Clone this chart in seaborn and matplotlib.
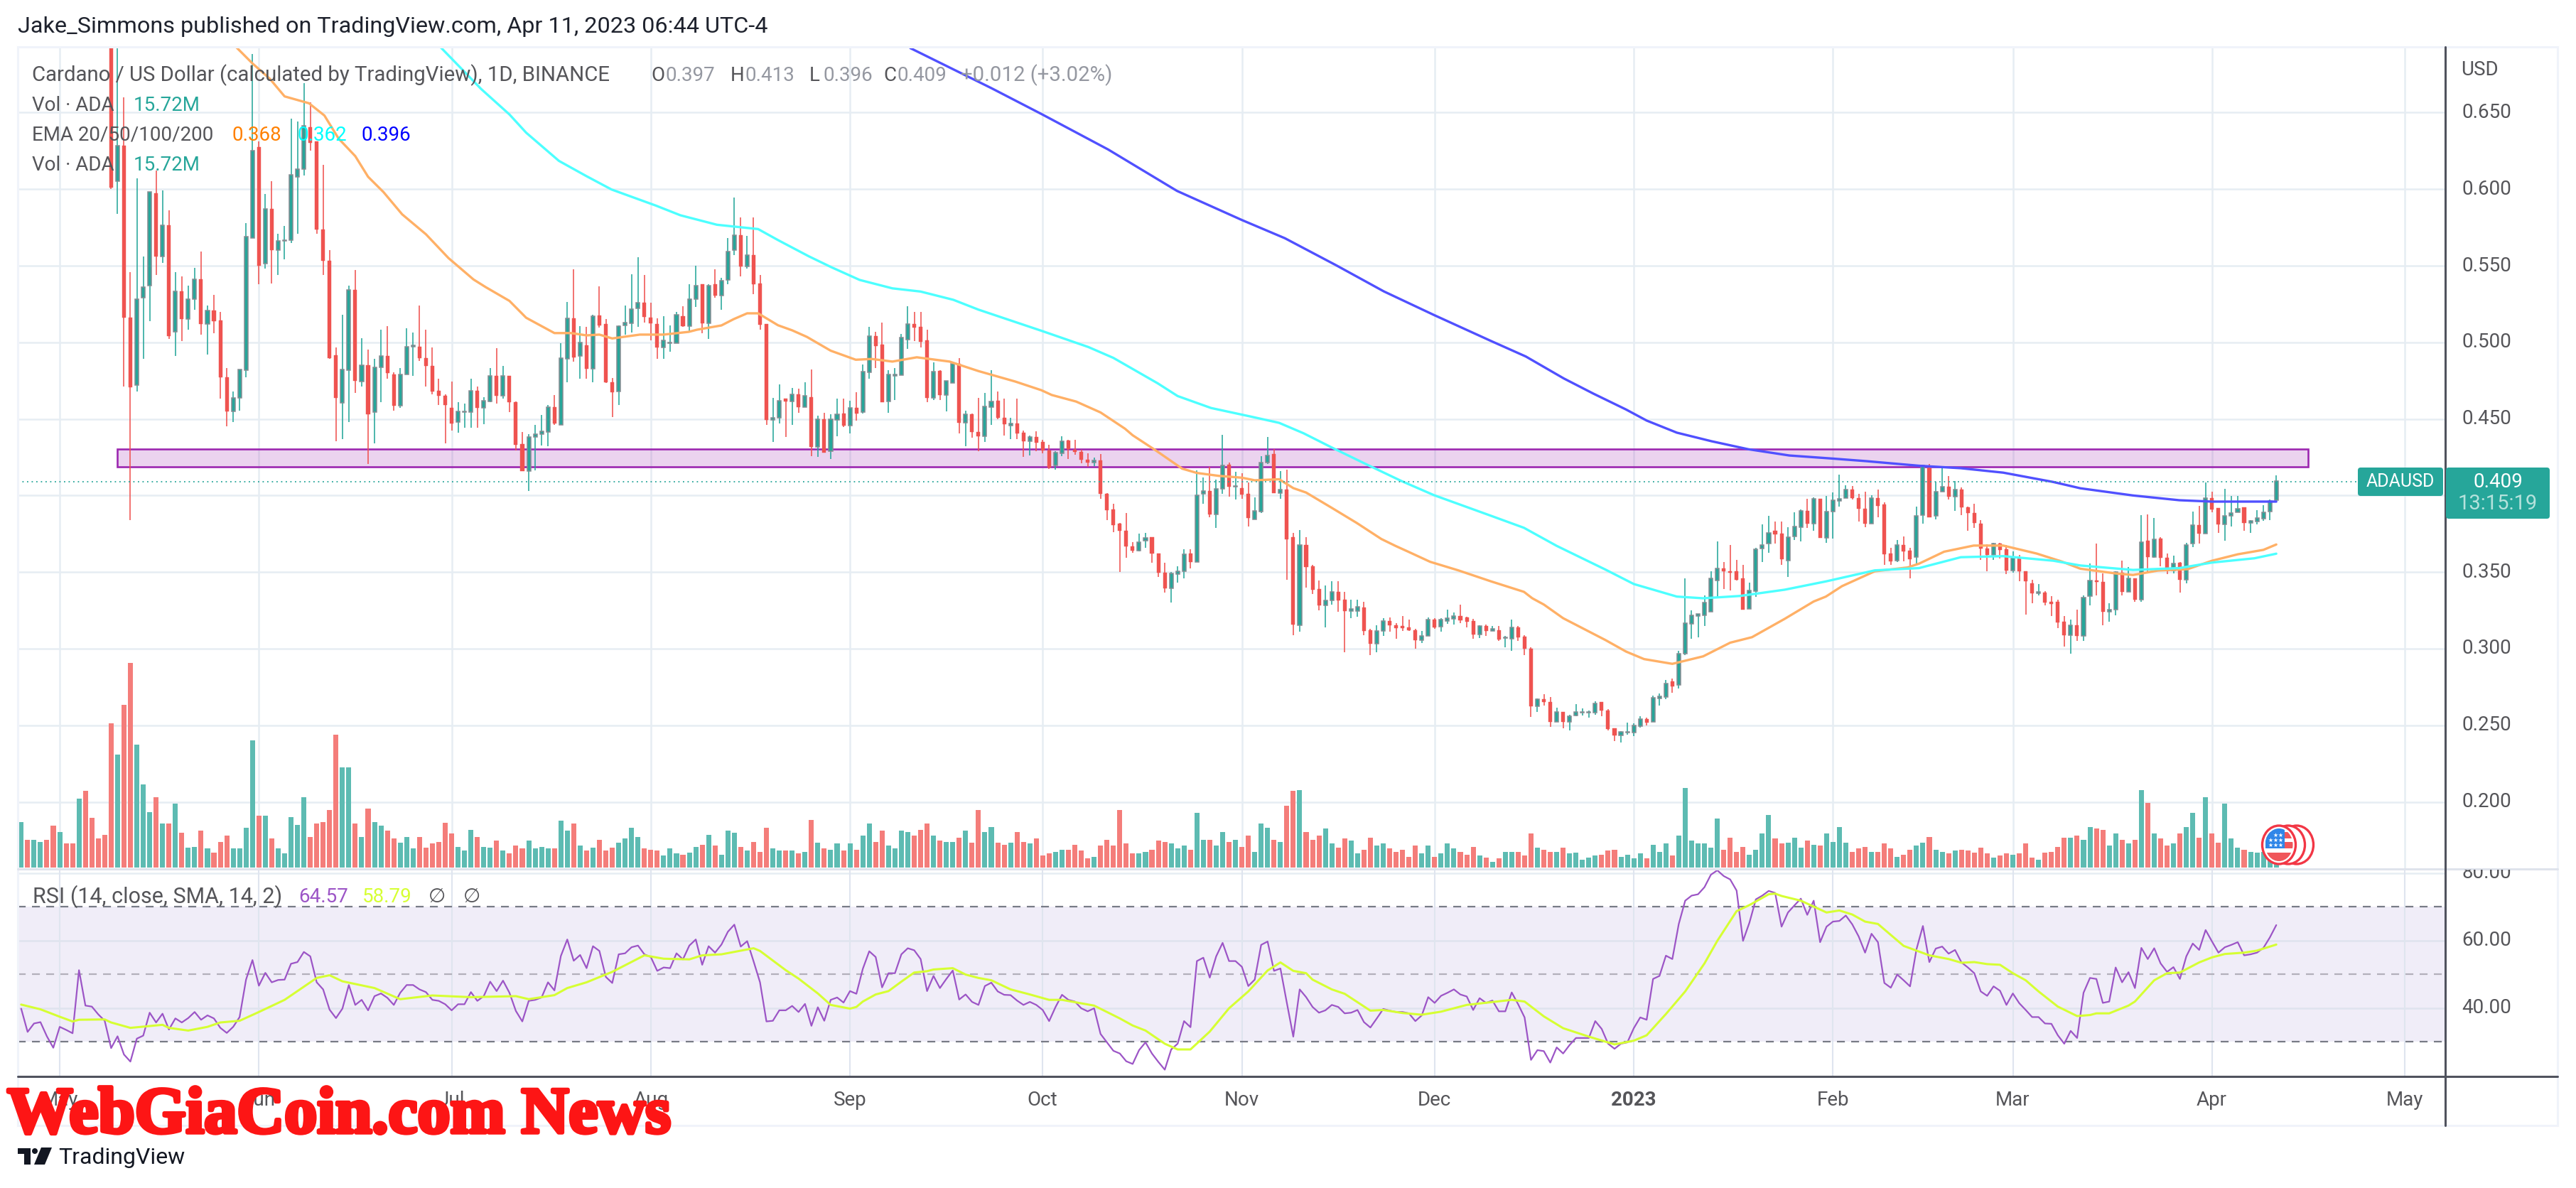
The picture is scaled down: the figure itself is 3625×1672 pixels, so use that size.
import matplotlib
matplotlib.use("Agg")
import matplotlib.pyplot as plt
import pandas as pd
import seaborn as sns
from matplotlib.patches import Rectangle, Ellipse, Circle, Polygon, FancyBboxPatch
from matplotlib.transforms import Bbox, TransformedBbox
import matplotlib.patheffects as pe

W, H = 3625, 1672

# candles, one a day from May 9 2022 (bar index 14) to Apr 11 2023
opens = [
 .76,.605,.628,.516,.472,.529,.537,.597,.556,.576,.507,.533,.515,.528,.541,.512,.5205,.514,.477,.455,
 .4635,.482,.568,.627,.5515,.587,.560,.566,.5665,.608,.613,.640,.631,.5735,.553,.4915,.4605,.482,.534,.4745,
 .485,.4545,.4835,.491,.479,.4585,.479,.497,.497,.4895,.4845,.468,.465,.457,.448,.4545,.4545,.468,.457,.4615,
 .478,.465,.478,.4605,.4335,.416,.438,.44,.4415,.4575,.446,.489,.5155,.491,.498,.4825,.5175,.5115,.4735,.468,
 .511,.5125,.522,.5258,.516,.5118,.4966,.4995,.4992,.517,.5104,.5281,.5376,.5123,.5376,.5307,.5407,.5601,.5696,.5497,
 .5566,.5383,.5116,.4495,.4507,.4628,.4616,.4656,.4578,.464,.4317,.4495,.4287,.4495,.4535,.4455,.4568,.4542,.4805,.504,
 .4985,.4616,.478,.4786,.5018,.5116,.5099,.5009,.4635,.481,.4656,.4732,.4857,.4476,.4526,.4414,.4388,.4578,.4616,.4507,
 .4457,.4467,.4407,.4353,.4381,.4348,.4294,.4194,.4277,.4355,.4298,.4284,.4232,.4216,.4225,.4009,.3905,.3813,.3768,.3666,
 .3638,.3704,.3725,.3619,.3495,.3394,.3488,.3505,.3619,.3567,.4009,.4026,.3874,.4045,.4199,.4058,.4045,.4009,.3844,.3896,
 .4213,.427,.4017,.4037,.3727,.3153,.3677,.3536,.3385,.3282,.3315,.3369,.3317,.3246,.3246,.3267,.3118,.3033,.3116,.3178,
 .3153,.3145,.3137,.3118,.3056,.3081,.319,.3145,.3182,.3195,.3213,.3201,.3178,.3091,.3147,.3116,.3118,.3068,.3066,.3139,
 .3077,.2998,.2625,.2667,.2652,.2522,.2584,.2522,.2563,.2583,.2583,.2584,.2652,.2594,.2476,.2435,.2454,.2453,.2495,.2538,
 .2522,.2673,.2683,.2785,.2764,.2967,.3164,.3211,.3219,.324,.3445,.3524,.3505,.3505,.3458,.3261,.3375,.3654,.3685,.3768,
 .3749,.3576,.3733,.3795,.3899,.3816,.3977,.3723,.3894,.3965,.3981,.4037,.3983,.3913,.3816,.3981,.394,.3617,.3573,.3677,
 .3636,.3596,.387,.4178,.3865,.4024,.4054,.3993,.4036,.3922,.3884,.3815,.3652,.3614,.3685,.3645,.351,.3592,.3503,.3424,
 .3363,.3363,.3306,.3306,.3176,.3088,.3152,.3083,.3342,.3443,.3436,.3242,.3254,.3495,.3372,.3455,.332,.3704,.3597,.3716,
 .3592,.351,.3557,.3448,.3685,.3806,.3751,.3981,.3917,.3811,.3865,.3889,.3922,.3822,.3832,.3848,.3893,.397]
highs = [
 .78,.72,.660,.546,.607,.556,.598,.612,.599,.586,.546,.543,.537,.5485,.559,.524,.531,.520,.483,.468,
 .482,.578,.688,.631,.597,.605,.571,.576,.646,.644,.669,.6565,.631,.616,.56,.4965,.518,.537,.547,.5025,
 .495,.489,.508,.5105,.4805,.483,.509,.5065,.524,.508,.4965,.476,.466,.4745,.461,.46,.476,.471,.464,.483,
 .496,.4845,.478,.4615,.4415,.440,.446,.4525,.459,.4655,.4995,.5265,.5475,.5105,.51,.518,.5365,.515,.4765,.511,
 .524,.5445,.5555,.5438,.5258,.5156,.517,.5108,.5198,.5236,.5378,.55,.5376,.5378,.5478,.5419,.5679,.5947,.5817,.5696,
 .5817,.5438,.5116,.4637,.4727,.4628,.4701,.4696,.4739,.4822,.4519,.4538,.4531,.463,.463,.4618,.4673,.4857,.5099,.5068,
 .5127,.482,.4831,.5052,.5236,.5198,.5198,.5082,.4867,.482,.4744,.4874,.4898,.4554,.4535,.4637,.4668,.482,.4677,.463,
 .4507,.463,.4424,.4393,.4417,.4365,.4329,.4289,.4388,.4365,.4365,.4298,.4275,.4246,.427,.4014,.3946,.382,.3886,.3694,
 .3749,.3756,.373,.3619,.3559,.35,.3536,.3649,.3649,.4163,.4116,.4187,.4104,.4398,.4216,.4156,.4147,.4085,.3986,.4258,
 .4381,.4303,.4157,.4168,.3758,.3774,.3727,.3547,.3447,.3412,.3439,.3439,.3371,.3319,.3319,.3308,.3128,.3153,.3199,.3205,
 .3168,.3215,.3188,.3128,.3116,.3205,.3199,.3199,.3257,.3236,.3286,.3207,.3195,.3153,.3157,.3147,.3147,.3081,.3188,.3147,
 .3087,.3008,.2677,.2704,.2685,.2615,.2584,.2567,.2636,.2609,.2594,.2656,.2652,.2605,.2479,.246,.2516,.2511,.2559,.2549,
 .2694,.2708,.2797,.2807,.2988,.3458,.3251,.3224,.3346,.3505,.3698,.3567,.3677,.3578,.3547,.3429,.366,.381,.3867,.3828,
 .3828,.3795,.3888,.3909,.3977,.3986,.3977,.3998,.4019,.4137,.4068,.406,.4012,.4023,.4002,.4037,.3957,.3656,.3708,.3733,
 .366,.3925,.4201,.4206,.409,.4189,.4126,.4095,.4054,.3927,.3946,.3841,.368,.3692,.3692,.3675,.3633,.3614,.3507,.3448,
 .3424,.3377,.3344,.332,.3214,.3188,.3254,.3349,.3555,.3687,.3491,.3297,.3503,.3574,.3533,.3455,.387,.3877,.3853,.3728,
 .3621,.3609,.3567,.3692,.3893,.3934,.4085,.4024,.3917,.4043,.3995,.3995,.3922,.3841,.3905,.3936,.3976,.413]
lows = [
 .600,.584,.471,.384,.468,.489,.514,.544,.552,.502,.491,.501,.508,.521,.505,.492,.506,.463,.445,.448,
 .4555,.477,.568,.538,.548,.5385,.544,.554,.565,.571,.609,.625,.571,.544,.489,.4355,.437,.448,.467,.471,
 .4205,.434,.461,.476,.4555,.457,.479,.478,.488,.471,.466,.459,.434,.4425,.441,.444,.444,.444,.4465,.461,
 .46,.463,.4545,.4295,.416,.403,.4165,.4325,.432,.446,.446,.474,.4875,.476,.476,.474,.5095,.4735,.451,.459,
 .505,.5065,.51,.513,.5014,.4893,.4893,.4938,.4992,.51,.5068,.523,.5059,.5021,.5293,.521,.5378,.5568,.5431,.5483,
 .5312,.5082,.4459,.4348,.4471,.4381,.4459,.4538,.4578,.4258,.4253,.4282,.4239,.4388,.4448,.4407,.4488,.4535,.4763,.4834,
 .4611,.454,.4621,.4786,.4955,.5009,.4964,.4611,.4621,.4621,.455,.4732,.4407,.4322,.4377,.4289,.4351,.4459,.45,.4393,
 .4369,.4369,.4253,.4263,.4289,.4277,.4175,.4168,.4256,.4239,.4265,.4211,.4187,.4192,.3979,.3839,.3761,.35,.3595,.3626,
 .3637,.3659,.3559,.3467,.3368,.3299,.3429,.3458,.3524,.3566,.3946,.3856,.3789,.4009,.3991,.3974,.3979,.3796,.3842,.3884,
 .4204,.4017,.398,.3449,.3087,.3112,.3398,.3356,.3251,.3139,.3288,.324,.2977,.3199,.3209,.3087,.2957,.2977,.3085,.3112,
 .3066,.3116,.3116,.2998,.3035,.3081,.3128,.3112,.3164,.3159,.3166,.3139,.3066,.307,.3085,.3116,.305,.3008,.2988,.305,
 .2957,.2553,.2588,.2629,.2491,.2522,.248,.2466,.2557,.2563,.2549,.2569,.2559,.2466,.2397,.2387,.2439,.2429,.2487,.2499,
 .2522,.2629,.2671,.2714,.2739,.2957,.3066,.3075,.3147,.324,.3329,.3387,.3381,.3445,.3253,.3258,.334,.3567,.3625,.3687,
 .3547,.3468,.3708,.3698,.3789,.3768,.3723,.3692,.3718,.3925,.3981,.3975,.383,.3795,.3816,.3857,.3547,.3547,.3567,.3571,
 .3458,.3547,.3818,.3858,.3846,.4024,.3976,.3898,.387,.3768,.3787,.3578,.3505,.3578,.359,.3486,.3495,.3439,.3223,.3297,
 .3349,.3282,.3214,.3135,.3012,.2965,.3053,.3053,.3282,.3349,.3154,.3176,.3216,.3349,.337,.3306,.3306,.3495,.3595,.3538,
 .3486,.3491,.3365,.3427,.3664,.3687,.375,.3889,.3758,.3704,.3799,.3889,.3768,.3758,.3811,.3834,.3841,.396]
closes = [
 .601,.628,.516,.4705,.528,.536,.598,.556,.576,.504,.533,.515,.528,.541,.512,.5205,.514,.477,.455,.4635,
 .482,.569,.625,.550,.587,.560,.566,.5665,.609,.613,.641,.630,.5735,.553,.4895,.4635,.482,.534,.475,.485,
 .453,.4835,.491,.480,.4585,.479,.497,.498,.4895,.4845,.468,.465,.459,.447,.4545,.4548,.468,.457,.4615,.478,
 .465,.478,.461,.433,.416,.438,.44,.4415,.4575,.447,.4895,.5155,.490,.4995,.4825,.5168,.511,.474,.4675,.5105,
 .5125,.5215,.5255,.5165,.5123,.4966,.5011,.4997,.5177,.5104,.5281,.5367,.5123,.5369,.5307,.5402,.5589,.5696,.5497,.5566,
 .5378,.5116,.4493,.4507,.4616,.4616,.4656,.4578,.4649,.4317,.4495,.4282,.4495,.4526,.4455,.4568,.4535,.4805,.504,.4976,
 .4611,.4786,.4786,.5028,.5116,.5094,.5004,.4635,.4805,.4656,.4744,.4857,.4476,.4526,.4414,.4388,.4578,.4613,.4507,.4464,
 .4469,.4407,.4355,.4381,.4346,.4294,.4182,.4277,.4353,.4301,.4284,.4232,.4213,.4225,.4009,.3905,.3808,.3768,.3666,.3638,
 .3694,.3723,.3619,.3495,.3394,.3488,.3505,.3616,.3567,.3998,.4026,.3874,.4043,.4194,.4057,.4062,.4005,.3851,.3896,.4213,
 .4258,.4017,.4037,.3716,.3159,.3677,.3532,.3385,.3282,.3315,.3369,.3315,.3246,.3257,.3273,.3116,.3033,.3116,.3178,.3153,
 .3132,.3132,.312,.3056,.3083,.3186,.3141,.3186,.3197,.3213,.3184,.3174,.3091,.3145,.3116,.3128,.3062,.307,.3137,.3075,
 .2998,.2625,.2667,.2652,.2522,.2584,.2522,.2557,.2584,.2584,.2584,.2642,.2594,.2474,.2435,.2453,.2455,.2495,.2538,.2518,
 .2677,.2685,.277,.2756,.2963,.3164,.3215,.3224,.3298,.3458,.3524,.3505,.3497,.3451,.3253,.3377,.3646,.3677,.3756,.3747,
 .3582,.3727,.3795,.3899,.3816,.3977,.3723,.3894,.3965,.3977,.4037,.3981,.3913,.3816,.3981,.3934,.3615,.3571,.3677,.3636,
 .3584,.3867,.4194,.3858,.4024,.4054,.3993,.4036,.3922,.3884,.3822,.3652,.3614,.3685,.3645,.351,.359,.3503,.3439,.3363,
 .3368,.3301,.3294,.3171,.3088,.3152,.3081,.3332,.3443,.3434,.3242,.3254,.3498,.3372,.3455,.332,.3692,.3597,.3711,.3592,
 .351,.3555,.3448,.3675,.3806,.3751,.3981,.391,.3811,.3865,.3884,.3912,.3822,.3834,.3851,.3886,.3964,.409]

# daily volume in millions, from Apr 25 2022 (bar index 0)
volume = [
 46,28,28,26,28,42,36,24,24,69,77,50,29,33,145,114,164,206,124,84,56,71,44,44,64,35,20,21,37,19,15,26,32,19,19,40,128,52,52,29,
 19,14,51,43,71,31,44,46,58,134,101,101,44,31,59,46,42,37,29,25,31,19,31,20,24,26,45,34,21,17,38,31,21,20,27,17,14,22,19,27,
 19,21,19,19,47,37,44,22,17,20,28,17,20,25,29,40,31,19,18,17,12,19,14,13,15,21,23,33,22,13,37,35,21,17,26,16,40,19,17,17,
 17,14,16,48,25,19,18,24,17,24,
 18,32,44,26,37,22,19,37,36,32,38,44,32,27,26,26,30,37,25,58,36,41,25,23,25,36,26,24,29,12,14,16,18,18,23,17,9,11,22,28,
 22,58,24,14,14,16,18,27,26,24,19,22,18,55,28,28,22,36,26,28,21,32,16,44,40,28,26,62,77,78,36,28,32,39,24,20,29,27,14,18,
 30,22,24,19,16,18,11,22,14,22,11,14,24,19,16,13,21,12,10,6,9,16,16,16,12,34,20,18,16,16,20,14,15,8,10,12,13,17,18,11,
 13,9,14,9,23,16,24,12,32,80,27,24,24,
 20,49,18,30,16,21,13,18,34,53,29,24,25,30,20,27,23,22,34,26,41,25,16,19,21,16,16,24,19,11,13,18,22,25,31,18,16,14,17,18,
 17,15,20,14,10,12,14,13,14,24,10,8,15,16,21,30,30,32,28,41,39,38,22,34,28,24,28,78,65,34,29,22,24,34,41,55,30,71,34,25,
 64,29,20,18,16,15,16,16,15.72]
# direction of the bars before the first candle is on screen
vol_up_first = [1,0,1,1,0,0,1,0,0,1,0,0,0,0]

# RSI(14), from Apr 25 2022
rsi = [
 39.8,32.9,35.4,35.8,31.6,28.2,34.4,33.5,32.5,51.2,40.7,40.4,38.1,36.2,28.1,31.6,26.2,24.1,30.9,31.8,
 38.6,35.7,38.3,33.6,36.9,35.7,37,38.8,36.5,37.8,36.9,34.1,32.6,34.4,37.3,48.4,54.2,46.6,50.4,47.6,
 48.3,48.4,53.1,53.6,56.6,55.3,47.6,45.5,39.5,37,39.8,46.8,40.9,42.4,39.3,43.5,44.3,43,40.9,44.5,
 46.8,46.8,45.5,44.7,42.4,42.1,41.1,39.3,41.1,41.1,44.7,42.1,43.5,47.8,45,48.1,44.5,39.1,36,42.1,
 42.4,43.1,47.6,45.2,55.4,60.3,54,55.7,51.8,58.3,56.9,49.2,47.4,55.9,56.2,58,58.5,55.9,55.1,51,
 52,51.8,56.2,54.4,58.5,60.3,52.8,58.3,56.4,58.8,62.6,64.7,58.2,59.8,53.8,47.6,36,36.2,39.3,39.3,
 40.6,38.8,41.2,34.7,40.2,36.2,42.4,43.1,41.6,45,
 44.2,51.6,56.8,55.1,46.1,50.3,50.3,55.9,57.7,57.1,54.5,45,49.5,45.9,48.6,51.1,42.5,44,41.8,40.9,
 46.5,47.5,44.9,43.9,43.8,42.2,40.9,41.8,40.9,39.4,36.1,40.3,43.9,42.4,41.9,39.9,39,39.9,32.3,29.8,
 27.3,26.5,24.2,23.4,27.5,29.8,26.5,24,21.7,27.7,29.4,36.1,34.3,53.9,54.9,49,55.3,59.3,53.9,53.9,
 52.2,46.5,48.4,58.7,59.7,51,51.7,41.5,31.5,45.5,43.2,40.3,38.6,39.3,40.9,40.3,38.4,38.6,39.4,35.8,
 34.2,36.9,39.7,39.2,38.8,38.8,38.4,36.1,37.8,43.2,41.5,43.6,44.5,45.5,44,43.4,39.4,42.9,41.5,42.2,
 39,39,44.6,41.1,37.2,24.6,27.5,27.2,23.8,28.3,26.5,29,31.1,31.1,31.1,36.1,33.8,29.4,27.9,29.4,
 29.8,34,37.2,36.5,48.6,49.5,55.5,54.5,64.9,71.8,73.3,73.7,75.8,
 79.5,80.8,79.1,78.1,74.8,59.9,65.3,72.2,73.3,74.7,74.1,64.1,68.3,70.4,72.4,67.6,71.8,59.5,64.1,65.6,
 65.8,67.4,64.8,61.2,56.4,62,59.5,47.4,46,49.9,48.2,46.4,57.4,64.3,53.6,57.6,58.2,56.1,57.2,53.5,
 52,50.3,44.9,43.6,46.4,45.1,40.9,44.3,41.4,39.4,37.3,37.3,35.4,35.3,31.9,29.4,33.2,31.1,44.5,48.9,
 48.6,41.5,41.9,52,47.6,50.6,45.9,57.8,54.5,57.7,53.2,50.7,52.1,48.6,55.3,59.1,57.2,63.1,59.7,56.4,
 58,58.7,59.5,55.6,55.9,56.4,57.8,60.9,64.57]

# RSI moving average
rsi_ma_days = [0,3,6,8,9,13,14,17,22,23,26,29,31,34,37,41,46,48,50,55,59,64,70,77,79,83,85,88,92,97,100,104,106,109,114,115,119,121,124,126,129,
 130,131,133,135,137,139,141,142,145,147,149,151,154,157,160,162,167,171,173,175,178,180,182,185,188,191,194,196,198,200,201,204,206,210,212,215,218,221,225,232,234,237,240,244,248,251,253,256,259,262,
 264,267,269,272,273,274,277,281,283,285,287,289,293,295,297,300,302,304,306,308,310,312,314,317,320,322,323,325,328,329,332,334,336,339,341,343,346,348,351]
rsi_ma = [41,39.6,37.4,36,36.5,36.6,35.7,34.1,35,34.1,33.3,34.4,35.7,36.2,38.8,42.4,48.9,49.7,47.9,45.9,42.6,43.7,43.2,43.5,42.6,43.8,45.9,47.6,50.7,55.6,54.6,54.4,55.6,55.9,57.7,56.9,51.2,48.7,44.3,40.9,39.8,
 40.3,41.9,44,45,47.8,50.5,50.9,51.4,51.8,49.9,48.9,48.2,45.5,44,42.4,42.4,40.7,36.9,34.8,33.3,29.4,27.7,27.7,33,39.9,44.9,51.1,53.5,51,50.3,48.4,45.5,44.2,39.2,39.4,38.5,38,38.9,40.9,42.4,41.9,37.5,34,31.5,29.2,30.3,31.9,38.2,44.9,53.2,
 59.9,68.7,70.5,73.7,73.9,73.2,71.8,68.3,68.9,67.7,65.6,64.9,58.4,57,55.6,54.5,53.4,53.6,53,52.8,50.3,48.2,44.9,40.4,37.6,37.9,38.4,38.4,40.7,41.9,48.2,50.3,50.5,53.5,55,56,56.4,57,58.79]

# EMA 50
ema50_days = [33.5,36,38.7,41,44.8,47.2,49.4,52,54,56.4,59.3,63,66.5,70.4,72.3,76,78.6,83,85.6,88,90,92,96.3,100,103.9,105.2,109,110.9,113,114.7,117.8,120,122.3,126,129.9,132.4,135.6,139.4,144.5,149,154.7,158.8,160.4,164.2,168,171.8,173,176.6,180.7,183,186.4,190,192,195.8,198,200,204,207.9,211.7,213.9,216.1,219.3,223.7,228.8,233.9,235.2,237,240,246.6,249.8,252.6,257,261.8,266,269.4,274.5,279,280.9,283.4,288.5,293.6,295.4,299.3,303.9,308.5,313.7,317.6,320.5,326,328.7,332.6,337.2,341,345,349,351]
ema50 = [.6925,.682,.672,.6605,.656,.648,.633,.6215,.608,.598,.5835,.5705,.555,.541,.536,.527,.516,.506,.506,.5045,.505,.5025,.505,.505,.5068,.5082,.511,.5151,.5189,.5189,.5111,.5078,.5035,.4945,.4886,.4891,.4874,.4902,.4874,.4812,.4744,.4687,.4656,.4613,.4542,.4436,.4393,.4294,.4175,.4147,.4128,.4116,.4099,.4106,.4048,.4019,.3919,.382,.3716,.3671,.3629,.3567,.3511,.3439,.3371,.3329,.3288,.3199,.3056,.2981,.2932,.2901,.295,.3039,.3075,.3195,.3308,.334,.3408,.3505,.353,.3555,.3633,.3673,.3673,.3621,.3569,.3522,.3491,.3481,.351,.3519,.3574,.3616,.3645,.368]

# EMA 100
ema100_days = [65.3,71.6,76,78.6,83.7,88,91.9,96.3,98.8,102.6,108.3,114.7,117.8,122.6,126.1,130.5,135.6,140,145.1,149,158.8,166.1,170,176.9,180,185.2,191.5,195.8,199.6,204,209.1,214.8,219.9,228.8,233.9,239,246.6,251,257.7,261.8,267.5,274.5,280.9,288.5,295.4,301.9,308.5,316.3,320.5,328.7,335.9,341,347.6,351]
ema100 = [.6925,.6653,.6487,.6368,.6184,.6084,.5997,.593,.5892,.5829,.5767,.5739,.5667,.5561,.549,.5407,.5352,.5331,.5277,.5213,.5075,.4969,.4898,.4732,.4649,.4571,.4514,.4474,.4406,.4313,.4209,.4095,.4002,.3867,.3789,.3671,.3516,.3422,.334,.3329,.3344,.3385,.3439,.3511,.3526,.3597,.3604,.3574,.3543,.3514,.3526,.3562,.359,.362]

# EMA 200
ema200_days = [138.4,151,158.8,169.2,179.9,190,196.7,204.7,212.1,219.9,228.8,234.2,240.1,244.7,249.8,253,257.7,263.1,268.8,275.2,282.2,287.2,295.4,301.9,308.5,316.3,320.5,328.7,335.9,341,351]
ema200 = [.692,.6659,.649,.6258,.5988,.5798,.5679,.5502,.5332,.5178,.5008,.4907,.4764,.4665,.4561,.4489,.441,.4354,.4302,.4261,.424,.4224,.4194,.4178,.4149,.4088,.4047,.4,.3969,.396,.396]

# axis ticks
month_days = [6,37,67,98,129,159,190,220,251,282,310,341,371]
month_labels = ["May","Jun","Jul","Aug","Sep","Oct","Nov","Dec","2023","Feb","Mar","Apr","May"]
price_ticks = [.2,.25,.3,.35,.4,.45,.5,.55,.6,.65]
rsi_ticks = [40,60,80]

# marked resistance zone and last price
zone_days = [15,356]
zone_prices = [.4187,.4305]
last_price = .409

sns.set_theme(style="white")
plt.rcParams["font.family"] = ["Roboto", "DejaVu Sans"]

GRID = "#e6edf3"
TEAL = "#26a69a"
RED = "#ef5350"
TEXT = "#555559"

fig = plt.figure(figsize=(W / 100, H / 100), dpi=100, facecolor="white")


def pane(left, top, right, bottom):
    return fig.add_axes([left / W, 1 - bottom / H, (right - left) / W, (bottom - top) / H])


xlim = (-0.53, 377.3)

# price pane
ax = pane(25, 66, 3441, 1223)
ax.set_xlim(*xlim)
ax.set_ylim(.1562, .6928)
for p in price_ticks:
    ax.axhline(p, color=GRID, lw=1.8, zorder=0)
for d in month_days:
    ax.axvline(d, color=GRID, lw=1.8, zorder=0)

ax.add_patch(Rectangle((zone_days[0], zone_prices[0]), zone_days[1] - zone_days[0], zone_prices[1] - zone_prices[0],
                       facecolor=(156 / 255, 39 / 255, 176 / 255, .2), edgecolor="#9c27b0", lw=1.9, zorder=1))

days = [14 + i for i in range(len(opens))]
up = [c >= o for o, c in zip(opens, closes)]
ax.vlines(days, lows, highs, colors=[TEAL if u else RED for u in up], lw=1.15, zorder=2)
for u, fc, ec, lw in [(True, TEAL, "#858c92", 1.1), (False, RED, RED, 0.3)]:
    sel = [i for i in range(len(days)) if up[i] == u]
    ax.bar([days[i] for i in sel], [abs(closes[i] - opens[i]) + .0002 for i in sel], width=.56,
           bottom=[min(opens[i], closes[i]) for i in sel], color=fc, edgecolor=ec, linewidth=lw, zorder=3)

for xs, ys, col in [(ema50_days, ema50, "#ffb066"), (ema100_days, ema100, "#4dffff"), (ema200_days, ema200, "#5050ff")]:
    sns.lineplot(x=xs, y=ys, color=col, linewidth=2.4, estimator=None, sort=False, ax=ax, zorder=4)

ax.plot([xlim[0], 363.7], [last_price, last_price], color=TEAL, lw=1.3, linestyle=(0, (1, 2.6)), zorder=4)
ax.set_xlabel("")
ax.set_ylabel("")
ax.set_xticks([])
ax.set_yticks([])
for s in ax.spines.values():
    s.set_visible(False)

# volume on the same pane
ax_vol = ax.twinx()
vol_df = pd.DataFrame({
    "day": range(len(volume)),
    "vol": volume,
    "up": [bool(u) for u in vol_up_first] + up,
})
sns.barplot(data=vol_df, x="day", y="vol", hue="up", palette={True: "#5dbbb2", False: "#f47d7a"}, native_scale=True,
            dodge=False, width=.78, saturation=1, linewidth=0, legend=False, ax=ax_vol)
ax_vol.set_xlim(*xlim)
ax_vol.set_ylim(-1.43, 825.8)
ax_vol.set_xlabel("")
ax_vol.set_ylabel("")
ax_vol.set_xticks([])
ax_vol.set_yticks([])
ax_vol.patch.set_visible(False)
for s in ax_vol.spines.values():
    s.set_visible(False)

# RSI pane
ax_rsi = pane(25, 1223, 3441, 1514.5)
ax_rsi.set_xlim(*xlim)
ax_rsi.set_ylim(19.8, 81.2)
ax_rsi.axhspan(30, 70, color="#f0edf8", lw=0, zorder=0)
for r in rsi_ticks:
    ax_rsi.axhline(r, color="#dfe3ee" if r != 80 else GRID, lw=1.8, zorder=1)
for d in month_days:
    ax_rsi.axvline(d, color="#dfe5ef", lw=1.5, zorder=1)
for r, col in [(70, "#787b86"), (50, "#b2b0ba"), (30, "#787b86")]:
    ax_rsi.axhline(r, color=col, lw=1.6, linestyle=(0, (5, 4)), zorder=2)
sns.lineplot(x=list(range(len(rsi))), y=rsi, color="#9c55c6", linewidth=1.6, estimator=None, ax=ax_rsi, zorder=3)
sns.lineplot(x=rsi_ma_days, y=rsi_ma, color="#d6ff33", linewidth=2.2, estimator=None, sort=False, ax=ax_rsi, zorder=4)
ax_rsi.set_xlabel("")
ax_rsi.set_ylabel("")
ax_rsi.set_xticks([])
ax_rsi.set_yticks([])
for s in ax_rsi.spines.values():
    s.set_visible(False)

# overlay in pixels for the chrome
ov = fig.add_axes([0, 0, 1, 1], zorder=10)
ov.set_xlim(0, W)
ov.set_ylim(H, 0)
ov.axis("off")
ov.patch.set_visible(False)

FRAME = "#f0f3fa"
ov.add_patch(Rectangle((25, 66), 3574, 1518, fill=False, edgecolor=FRAME, lw=2.2))
ov.plot([25, 3599], [1223, 1223], color="#dfe3ec", lw=2.2)
ov.plot([25, 3599], [1514.5, 1514.5], color="#50535e", lw=2.2)
ov.plot([3441, 3441], [66, 1584], color="#50535e", lw=2.2)


def label(x, y, s, color=TEXT, size=20, ha="left", **kw):
    return ov.text(x, y, s, color=color, fontsize=size, ha=ha, va="center", **kw)


label(25, 38, "Jake_Simmons published on TradingView.com, Apr 11, 2023 06:44 UTC-4", color="#1e222d", size=23.3)

label(45, 106, "Cardano / US Dollar (calculated by TradingView), 1D, BINANCE", size=21.2)
for x, letter, val in [(916, "O", "0.397"), (1028, "H", "0.413"), (1139, "L", "0.396"), (1243, "C", "0.409")]:
    label(x, 106, letter)
    label(x + 20, 106, val, color="#9598a1")
label(1352, 106, "+0.012 (+3.02%)", color="#9598a1", size=21.2)
label(45, 148, "Vol · ADA")
label(188, 148, "15.72M", color=TEAL)
label(45, 190, "EMA 20/50/100/200")
label(327, 190, "0.368", color="#ff8000")
label(418, 190, "0.362", color="#00ffff")
label(508, 190, "0.396", color="#0000ff")
label(45, 232, "Vol · ADA")
label(188, 232, "15.72M", color=TEAL)

label(46, 1262, "RSI (14, close, SMA, 14, 2)", size=22)
label(420, 1262, "64.57", color="#9c55c6")
label(510, 1262, "58.79", color="#d6ff33")
label(603, 1262, "∅")
label(652, 1262, "∅")

# axis labels
label(3489, 99, "USD", ha="center")
for p in price_ticks:
    label(3499, 1128.6 - (p - .2) * 2156, f"{p:.3f}", ha="center")
for r in rsi_ticks:
    t = label(3499, 1466 - (r - 30) * 4.75, f"{r:.2f}", ha="center")
    t.set_clip_box(TransformedBbox(Bbox([[3445, 1224], [3598, 1510]]), ov.transData))
    t.set_clip_on(True)
for d, s in zip(month_days, month_labels):
    label(29.8 + d * 9.04, 1549, s, ha="center", fontweight="bold" if s == "2023" else "normal")

# last price tags, above the axis labels
for x0, y0, w, h in [(3318, 658, 120, 40), (3442, 658, 146, 72)]:
    ov.add_patch(FancyBboxPatch((x0, y0), w, h, boxstyle="round,pad=0,rounding_size=4",
                                facecolor=TEAL, edgecolor="none", zorder=5))
label(3378, 678, "ADAUSD", color="white", ha="center", size=18, zorder=6)
label(3515, 678, "0.409", color="white", ha="center", zorder=6)
label(3515, 709, "13:15:19", color="#b5e2dc", ha="center", size=21, zorder=6)

# flag badge
for cx in (3232, 3220):
    ov.add_patch(Ellipse((cx, 1189), 47, 54, facecolor="white", edgecolor="#f23645", lw=2.4, zorder=5))
disc = Ellipse((3207, 1189), 47, 54, facecolor="white", edgecolor="#f23645", lw=2.4, zorder=6)
ov.add_patch(disc)
inner = Ellipse((3207, 1189), 39, 46, transform=ov.transData)
for x0, y0, w, h, col in [(3188, 1171, 40, 9, "#f0565a"), (3188, 1185, 40, 9, "#f0565a"), (3188, 1200, 40, 12, "#f0565a"),
                          (3188, 1166, 27, 28, "#2f86e8")]:
    r = Rectangle((x0, y0), w, h, facecolor=col, edgecolor="none", zorder=7)
    ov.add_patch(r)
    r.set_clip_path(inner)
ov.scatter([3202, 3209, 3195, 3202, 3209, 3195, 3202, 3209], [1175, 1175, 1182, 1182, 1182, 1189, 1189, 1189],
           marker="*", s=22, color="white", lw=0, zorder=8)

# watermark and logo
wm = ov.text(477, 1572, "WebGiaCoin.com News", color="#fd1515", fontsize=66.5, family="Liberation Serif",
             fontweight="bold", ha="center", va="center")
wm.set_path_effects([pe.withStroke(linewidth=4, foreground="#fd1515")])
label(82, 1630, "TradingView", color="#131722", size=23)
ov.add_patch(Polygon([(25, 1616), (43, 1616), (43, 1639), (34, 1639), (34, 1624), (25, 1624)], facecolor="#131722", edgecolor="none"))
ov.add_patch(Circle((49, 1620), 4, facecolor="#131722", edgecolor="none"))
ov.add_patch(Polygon([(58, 1615), (73, 1615), (63, 1639), (48, 1639)], facecolor="#131722", edgecolor="none"))

fig.savefig("out.png", dpi=100, facecolor="white")
